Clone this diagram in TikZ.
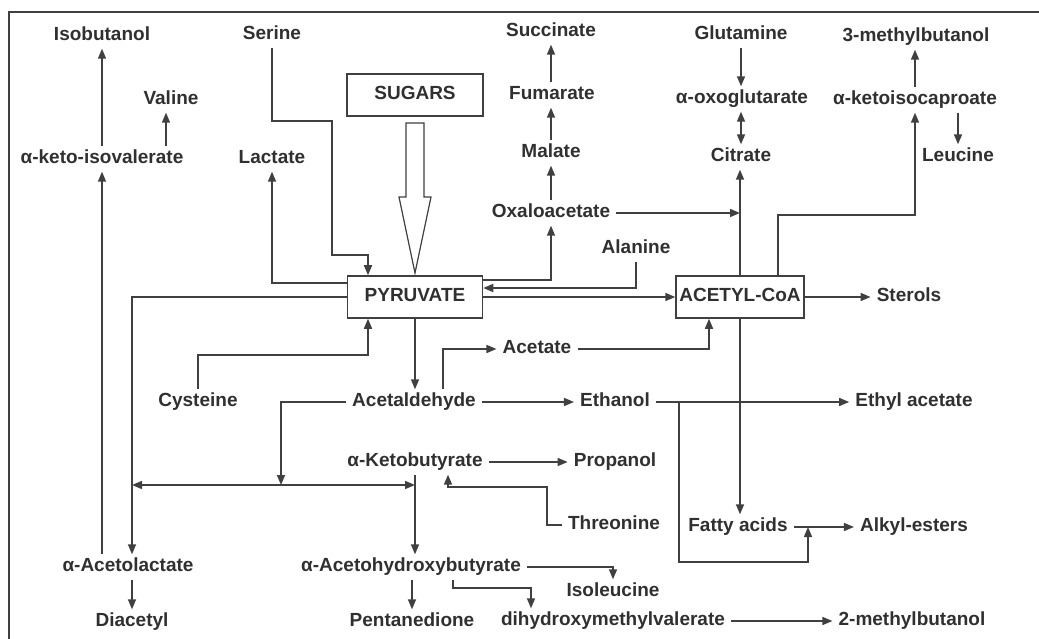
\documentclass[tikz,border=0pt]{standalone}
\usepackage{fontspec}
\setmainfont{Liberation Sans}
\usetikzlibrary{arrows.meta,calc}
\definecolor{txt}{HTML}{303030}
\definecolor{ln}{HTML}{404040}
\tikzset{
  lbl/.style={font=\fontsize{19}{21}\selectfont\bfseries, text=txt, inner xsep=6pt, inner ysep=4pt, text height=13pt, text depth=4pt, anchor=center},
  boxnode/.style={lbl, draw=ln, line width=1.5pt, minimum height=42pt, inner xsep=3pt},
  conn/.style={draw=ln, line width=1.5pt},
  arr/.style={conn, -{Triangle[length=10pt,width=8pt]}},
  darr/.style={conn, {Triangle[length=10pt,width=8pt]}-{Triangle[length=10pt,width=8pt]}},
}
\begin{document}
\begin{tikzpicture}[x=1pt,y=-1pt]
\useasboundingbox (0,0) rectangle (1039,639);
\fill[white] (0,0) rectangle (1039,639);
\draw[ln, line width=1.4pt] (9,639) -- (9,12) -- (1039,12);

% nodes
\node[lbl] (iso) at (102,36) {Isobutanol};
\node[lbl] (ser) at (272,35) {Serine};
\node[boxnode, minimum width=136pt] (sug) at (415,95) {SUGARS};
\node[lbl] (val) at (171,100) {Valine};
\node[lbl] (kiv) at (102,159) {α-keto-isovalerate};
\node[lbl] (lac) at (272,159) {Lactate};
\node[lbl] (succ) at (551,32) {Succinate};
\node[lbl] (fum) at (552,95) {Fumarate};
\node[lbl] (mal) at (551,153) {Malate};
\node[lbl] (oxa) at (551,213) {Oxaloacetate};
\node[lbl] (glu) at (741,35) {Glutamine};
\node[lbl] (oxo) at (742,99) {α-oxoglutarate};
\node[lbl] (cit) at (741,157) {Citrate};
\node[lbl] (mbtt) at (916,37) {3-methylbutanol};
\node[lbl] (kic) at (915,100) {α-ketoisocaproate};
\node[lbl] (leu) at (958,157) {Leucine};
\node[lbl] (ala) at (636,249) {Alanine};
\node[boxnode, minimum width=135pt] (pyr) at (415,297) {PYRUVATE};
\node[boxnode, minimum width=128pt] (acoa) at (740,297) {ACETYL-CoA};
\node[lbl] (ster) at (909,297) {Sterols};
\node[lbl] (acet) at (537,349) {Acetate};
\node[lbl] (cys) at (198,402) {Cysteine};
\node[lbl] (ald) at (414,402) {Acetaldehyde};
\node[lbl] (eth) at (615,402) {Ethanol};
\node[lbl] (etac) at (914,402) {Ethyl acetate};
\node[lbl] (kbut) at (415,462) {α-Ketobutyrate};
\node[lbl] (prop) at (615,462) {Propanol};
\node[lbl] (thr) at (614,525) {Threonine};
\node[lbl] (fatty) at (738,527) {Fatty acids};
\node[lbl] (alkyl) at (914,527) {Alkyl-esters};
\node[lbl] (acl) at (128,567) {α-Acetolactate};
\node[lbl] (ahb) at (411,567) {α-Acetohydroxybutyrate};
\node[lbl] (ile) at (613,592) {Isoleucine};
\node[lbl] (dia) at (132,622) {Diacetyl};
\node[lbl] (pent) at (412,622) {Pentanedione};
\node[lbl] (dhmv) at (613,621) {dihydroxymethylvalerate};
\node[lbl] (mbtw) at (912,621) {2-methylbutanol};

\coordinate (jl) at (132,485);
\coordinate (jm) at (281,485);
\coordinate (jr) at (415,485);
\coordinate (ethbr) at (679,402);
\coordinate (mergeFA) at (808,527);

% sugars hollow arrow
\draw[ln, line width=1.2pt, fill=white] (406,123) -- (406,197) -- (399,197) -- (415,273) -- (431,197) -- (424,197) -- (424,123) -- cycle;

% left part
\draw[arr] (kiv.north) -- (iso.south);
\draw[arr] ([xshift=-5pt]val.south |- kiv.north) -- ([xshift=-5pt]val.south);
\draw[arr] (acl.north -| kiv.south) -- (kiv.south);
\draw[arr] (ser.south) |- (332,121) -- (332,255) -| ([xshift=-47pt]pyr.north);
\draw[arr] ([yshift=14pt]pyr.west) -| (lac.south);
\draw[arr] (cys.north) |- (368,355) -- ([xshift=-47pt]pyr.south);
\draw[arr] (pyr.west) -| (acl.north -| dia.north);
\draw[darr] (jl) -- (jr);
\draw[arr] (ald.west) -| (jm);
\draw[arr] (acl.south -| dia.north) -- (dia.north);

% centre column
\draw[arr] (pyr.south) -- (pyr.south |- ald.north);
\draw[arr] ([xshift=29pt]ald.north) |- (acet.west);
\draw[arr] (acet.east) -| ([xshift=-31pt]acoa.south);
\draw[arr] (ald.east) -- (eth.west);
\draw[arr] (kbut.south) -- (kbut.south |- ahb.north);
\draw[arr] (kbut.east) -- (prop.west);
\draw[arr] (thr.west) -| (547,487) -| ([xshift=33pt]kbut.south);
\draw[arr] (ahb.south -| pent.north) -- (pent.north);
\draw[arr] ([xshift=42pt]ahb.south) |- (531,588) -- ([xshift=-82pt]dhmv.north);
\draw[arr] (ahb.east) -| (ile.north);
\draw[arr] (dhmv.east) -- (dhmv.east -| mbtw.west);

% TCA side
\draw[arr] (oxa.north) -- (mal.south);
\draw[arr] (mal.north) -- (fum.south -| mal.north);
\draw[arr] (fum.north -| succ.south) -- (succ.south);
\draw[arr] ([yshift=17pt]pyr.east) -| (oxa.south);
\draw[arr] (ala.south) |- ([yshift=9pt]pyr.east);
\draw[arr] (pyr.east) -- (acoa.west);
\draw[arr] (oxa.east) -- (oxa.east -| acoa.north);
\draw[arr] (acoa.north) -- (cit.south -| acoa.north);
\draw[arr] (glu.south) -- (glu.south |- oxo.north);
\draw[darr] (oxo.south -| glu.south) -- (cit.north -| glu.south);

% right part
\draw[arr] ([xshift=38pt]acoa.north) |- (kic.south |- 0,215) -- (kic.south);
\draw[arr] (kic.north) -- (kic.north |- mbtt.south);
\draw[arr] (leu.north |- kic.south) -- (leu.north);
\draw[arr] (acoa.east) -- (acoa.east -| ster.west);
\draw[arr] (eth.east) -- (eth.east -| etac.west);
\draw[arr] (ethbr) |- ([yshift=-35pt]mergeFA) -- (mergeFA);
\draw[arr] (acoa.south) -- (acoa.south |- fatty.north);
\draw[arr] (fatty.east) -- (alkyl.west);
\end{tikzpicture}
\end{document}
